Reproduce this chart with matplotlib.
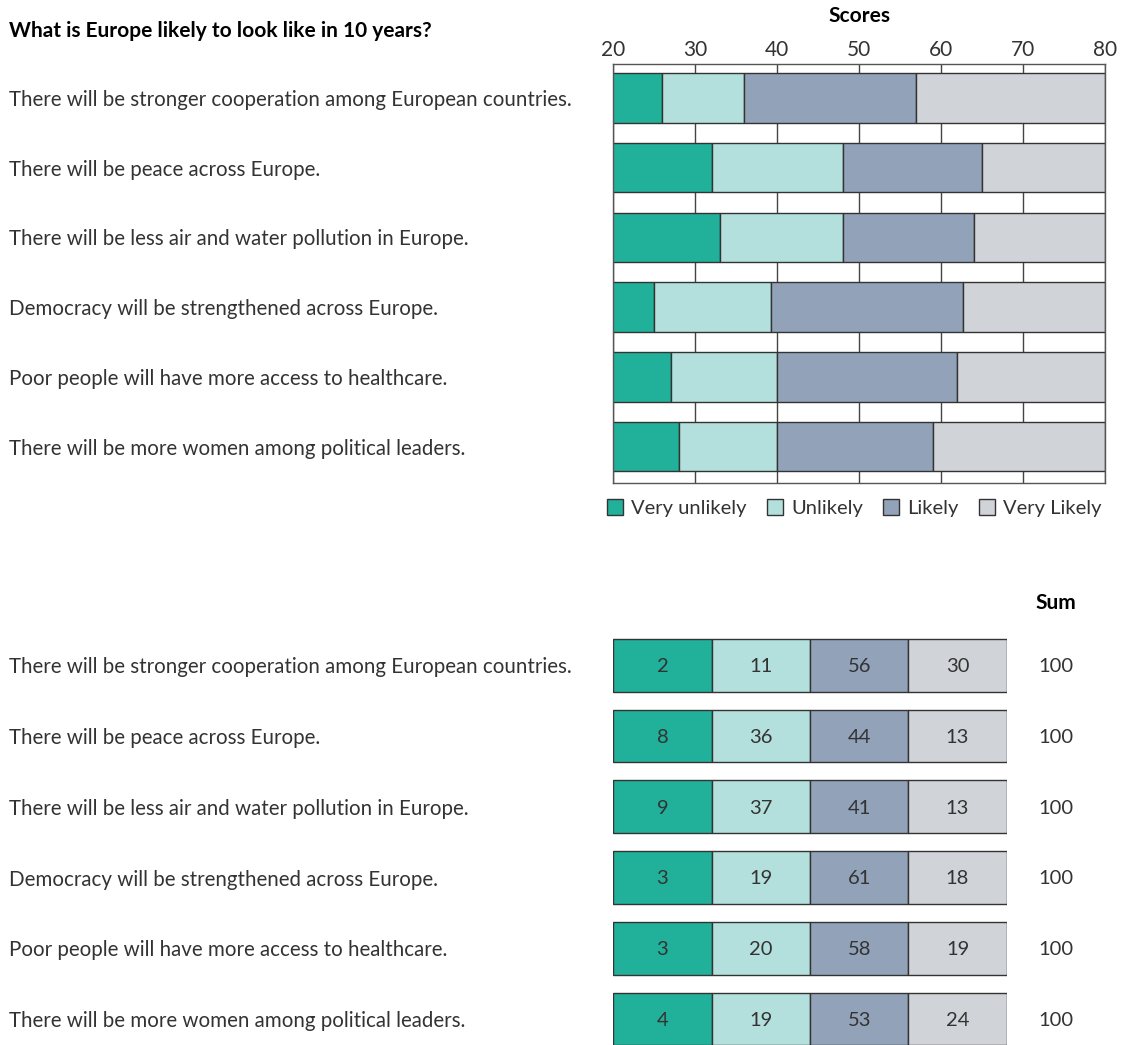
import numpy as np
import matplotlib
matplotlib.use("Agg")
import matplotlib.pyplot as plt
import matplotlib.transforms as mtransforms
from matplotlib.patches import Patch

plt.rcParams['font.family'] = ['Lato', 'DejaVu Sans']

title = "What is Europe likely to look like in 10 years?"
statements = [
    "There will be stronger cooperation among European countries.",
    "There will be peace across Europe.",
    "There will be less air and water pollution in Europe.",
    "Democracy will be strengthened across Europe.",
    "Poor people will have more access to healthcare.",
    "There will be more women among political leaders.",
]
categories = ["Very unlikely", "Unlikely", "Likely", "Very Likely"]
colors = ["#21b099", "#b3e0dc", "#91a2b9", "#d0d3d8"]

# top chart: scores (stacked segments, starting from 0, axis shows 20-80)
score_very_unlikely = [26, 32, 33, 25, 27, 28]
score_unlikely = [10, 16, 15, 14.3, 13, 12]
score_likely = [21, 17, 16, 23.4, 22, 19]
score_very_likely = [23, 15, 16, 17.3, 18, 21]
score_ticks = [20, 30, 40, 50, 60, 70, 80]

# bottom table: percentages
pct_very_unlikely = [2, 8, 9, 3, 3, 4]
pct_unlikely = [11, 36, 37, 19, 20, 19]
pct_likely = [56, 44, 41, 61, 58, 53]
pct_very_likely = [30, 13, 13, 18, 19, 24]
pct_sum = [100, 100, 100, 100, 100, 100]

W, H = 1121, 1045
fig = plt.figure(figsize=(W / 100, H / 100), dpi=100)
txt = "#333333"
edge = "#333333"
fs = 14.8

# ---- top chart ----
ax = fig.add_axes([613.3 / W, 1 - 482.7 / H, 491.4 / W, 418.4 / H])
y = np.arange(len(statements))
left = np.zeros(len(statements))
for vals, c in zip([score_very_unlikely, score_unlikely, score_likely, score_very_likely], colors):
    ax.barh(y, vals, left=left, height=0.71, color=c, edgecolor=edge, linewidth=1, zorder=2)
    left += np.array(vals)
ax.set_xlim(20, 80)
ax.set_ylim(5.52, -0.484)
ax.set_xticks(score_ticks)
ax.xaxis.tick_top()
ax.xaxis.set_label_position('top')
ax.tick_params(axis='x', length=0, pad=3.2, labelsize=15, labelcolor=txt)
ax.set_yticks([])
ax.set_xlabel("Scores", fontsize=15, fontweight='bold', labelpad=13)
ax.grid(axis='x', color='#444444', linewidth=1, zorder=0)
ax.set_axisbelow(True)
for s in ax.spines.values():
    s.set_color('#555555')
    s.set_linewidth(1)

tr = mtransforms.blended_transform_factory(fig.transFigure, ax.transData)
for i, s in enumerate(statements):
    ax.text(9 / W, i + 0.03, s, transform=tr, ha='left', va='center', fontsize=fs,
            color=txt, clip_on=False)

fig.text(9 / W, 1 - 31 / H, title, fontsize=15, fontweight='bold', ha='left', va='center')

handles = [Patch(facecolor=c, edgecolor=edge, linewidth=1) for c in colors]
leg = fig.legend(handles, categories, loc='center left', bbox_to_anchor=(589 / W, 1 - 508 / H),
                 ncol=4, frameon=False, fontsize=14.5, handlelength=0.8, handleheight=0.8,
                 handletextpad=0.4, columnspacing=1.0)
for t in leg.get_texts():
    t.set_color(txt)

# ---- bottom table ----
bx = fig.add_axes([613.3 / W, 0, 393.4 / W, 445 / H])
table = [pct_very_unlikely, pct_unlikely, pct_likely, pct_very_likely]
for j, (vals, c) in enumerate(zip(table, colors)):
    bx.barh(y, [1] * len(y), left=j, height=0.745, color=c, edgecolor=edge, linewidth=1)
    for i, v in enumerate(vals):
        bx.text(j + 0.5, i + 0.02, str(v), ha='center', va='center', fontsize=14.5,
                color=txt)
for i, v in enumerate(pct_sum):
    bx.text(4.5, i + 0.02, str(v), ha='center', va='center', fontsize=14.5,
            color=txt, clip_on=False)
bx.text(4.5, -0.88, "Sum", ha='center', va='center', fontsize=15, fontweight='bold', clip_on=False)
bx.set_xlim(0, 4)
bx.set_ylim(5.367, -0.923)
bx.axis('off')

tr2 = mtransforms.blended_transform_factory(fig.transFigure, bx.transData)
for i, s in enumerate(statements):
    bx.text(9 / W, i + 0.03, s, transform=tr2, ha='left', va='center', fontsize=fs,
            color=txt, clip_on=False)

fig.savefig("out.png", dpi=100)
